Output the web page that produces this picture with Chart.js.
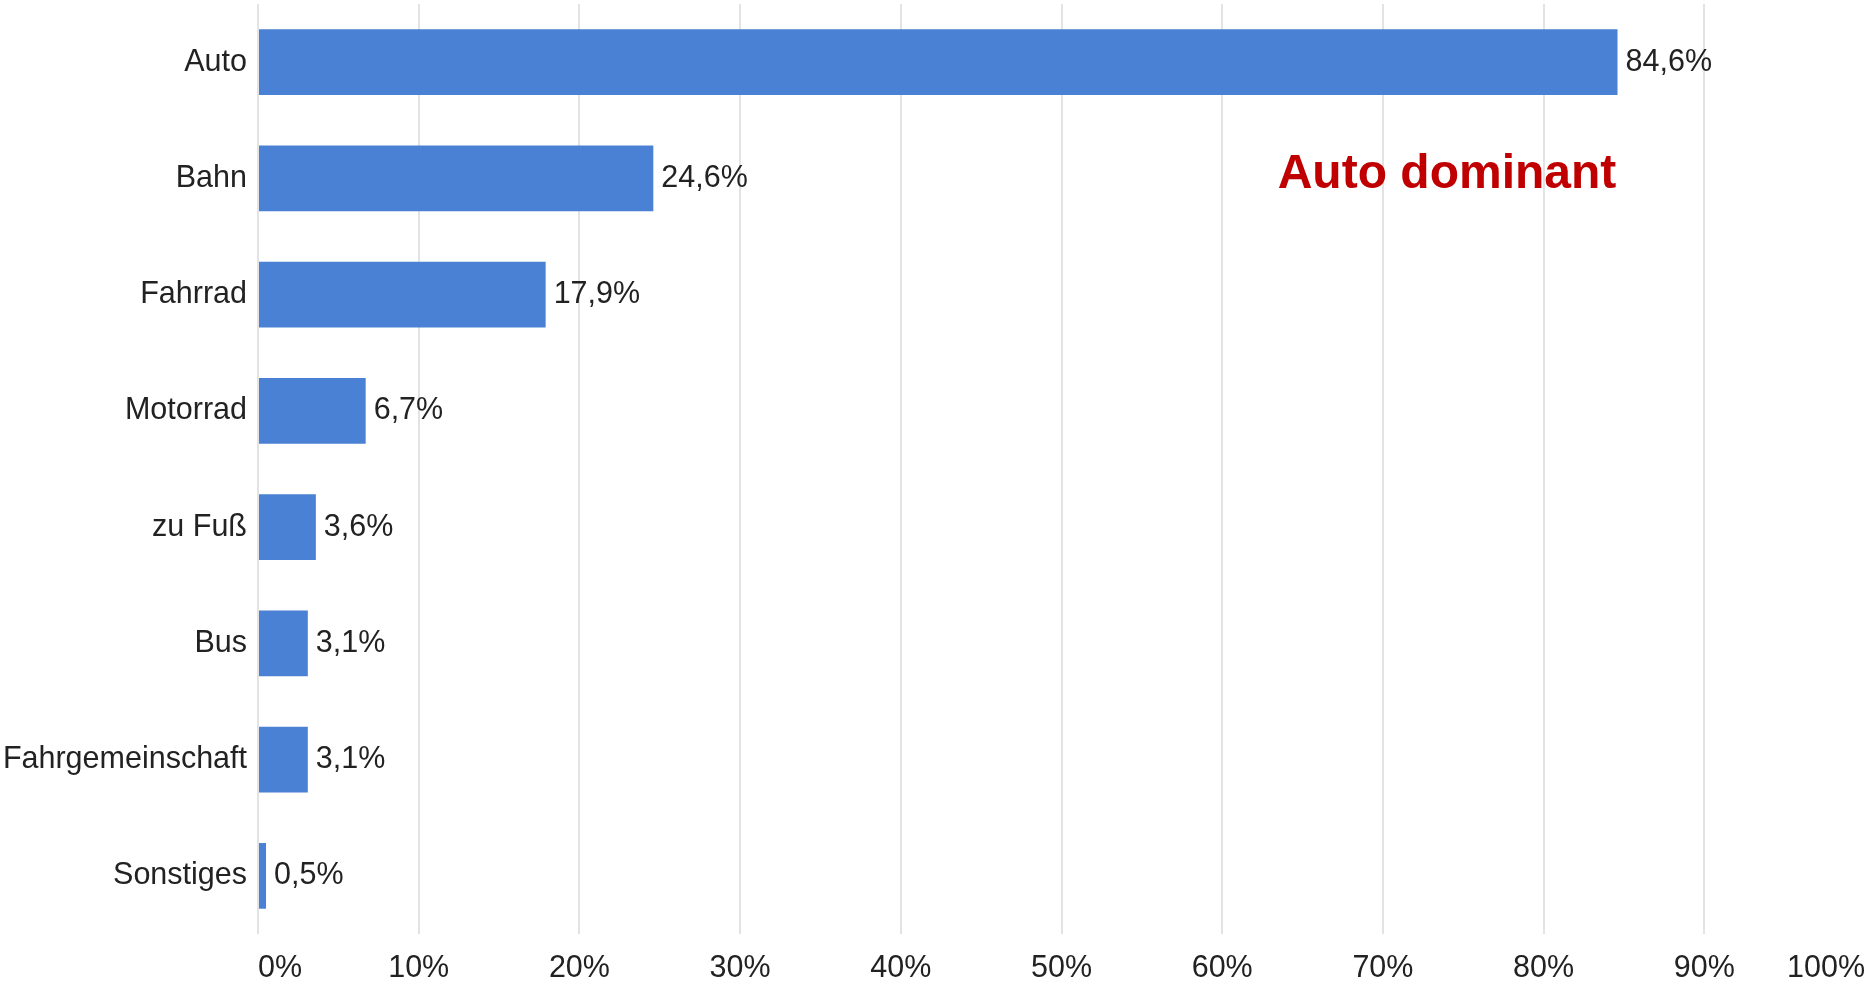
<html>
  <head>
    <title>Verkehrsmittel</title>
    <script src="https://cdn.jsdelivr.net/npm/chart.js@4.4.1/dist/chart.umd.min.js"></script>
    <style>
      body        { margin:0; overflow:hidden; background:#fff; }
      .wrap       { position:relative; width:1870px; height:987px; }
      .note       { position:absolute; left:1247px; top:142px; width:400px; text-align:center;
                    font:bold 48px "Liberation Sans", Arial, sans-serif; color:#c00000; line-height:60px; }
    </style>
  </head>
  <body>
    <div class="wrap">
      <canvas id="myChart" width="1870" height="987"></canvas>
      <div class="note">Auto dominant</div>
    </div>

    <script>
      var modes  = ['Auto', 'Bahn', 'Fahrrad', 'Motorrad', 'zu Fuß', 'Bus', 'Fahrgemeinschaft', 'Sonstiges'];
      var shares = [84.6, 24.6, 17.9, 6.7, 3.6, 3.1, 3.1, 0.5];

      var font = '"Liberation Sans", Arial, sans-serif';

      // value labels right of every bar, German decimal comma
      var valueLabels = {
        id: 'valueLabels',
        afterDatasetsDraw: function(chart) {
          var ctx = chart.ctx;
          var meta = chart.getDatasetMeta(0);
          ctx.save();
          ctx.font = '30.5px ' + font;
          ctx.fillStyle = '#222';
          ctx.textAlign = 'left';
          ctx.textBaseline = 'middle';
          meta.data.forEach(function(bar, i) {
            var txt = shares[i].toFixed(1).replace('.', ',') + '%';
            ctx.fillText(txt, bar.x + 8, bar.y);
          });
          ctx.restore();
        }
      };

      var ctx = document.getElementById('myChart').getContext('2d');
      var myChart = new Chart(ctx, {
        type: 'bar',
        data: {
          labels: modes,
          datasets: [{
            data: shares,
            backgroundColor: '#4a81d4',
            borderWidth: 0,
            barPercentage: 0.565,
            categoryPercentage: 1
          }]
        },
        plugins: [valueLabels],
        options: {
          indexAxis: 'y',
          responsive: false,
          animation: false,
          layout: { padding: { top: 4, right: 5, left: 0, bottom: 0 } },
          plugins: { legend: { display: false }, tooltip: { enabled: false } },
          scales: {
            x: {
              min: 0,
              max: 100,
              border: { display: false },
              grid: {
                lineWidth: 2,
                drawTicks: false,
                // no line at the right edge
                color: function(c) { return c.tick && c.tick.value === 100 ? 'rgba(0,0,0,0)' : '#e3e3e3'; }
              },
              ticks: {
                stepSize: 10,
                align: 'inner',
                padding: 16,
                color: '#222',
                font: { family: font, size: 30.5 },
                callback: function(v) { return v + '%'; }
              },
              afterFit: function(scale) {
                scale.height = 53;
                scale.paddingLeft = 0;
                scale.paddingRight = 0;
              }
            },
            y: {
              border: { display: false },
              grid: { display: false, drawTicks: false },
              ticks: {
                padding: 11,
                color: '#222',
                font: { family: font, size: 30.5 }
              },
              afterFit: function(scale) {
                scale.width = 258;
                scale.paddingTop = 0;
                scale.paddingBottom = 0;
              }
            }
          }
        }
      });
    </script>
  </body>
</html>
